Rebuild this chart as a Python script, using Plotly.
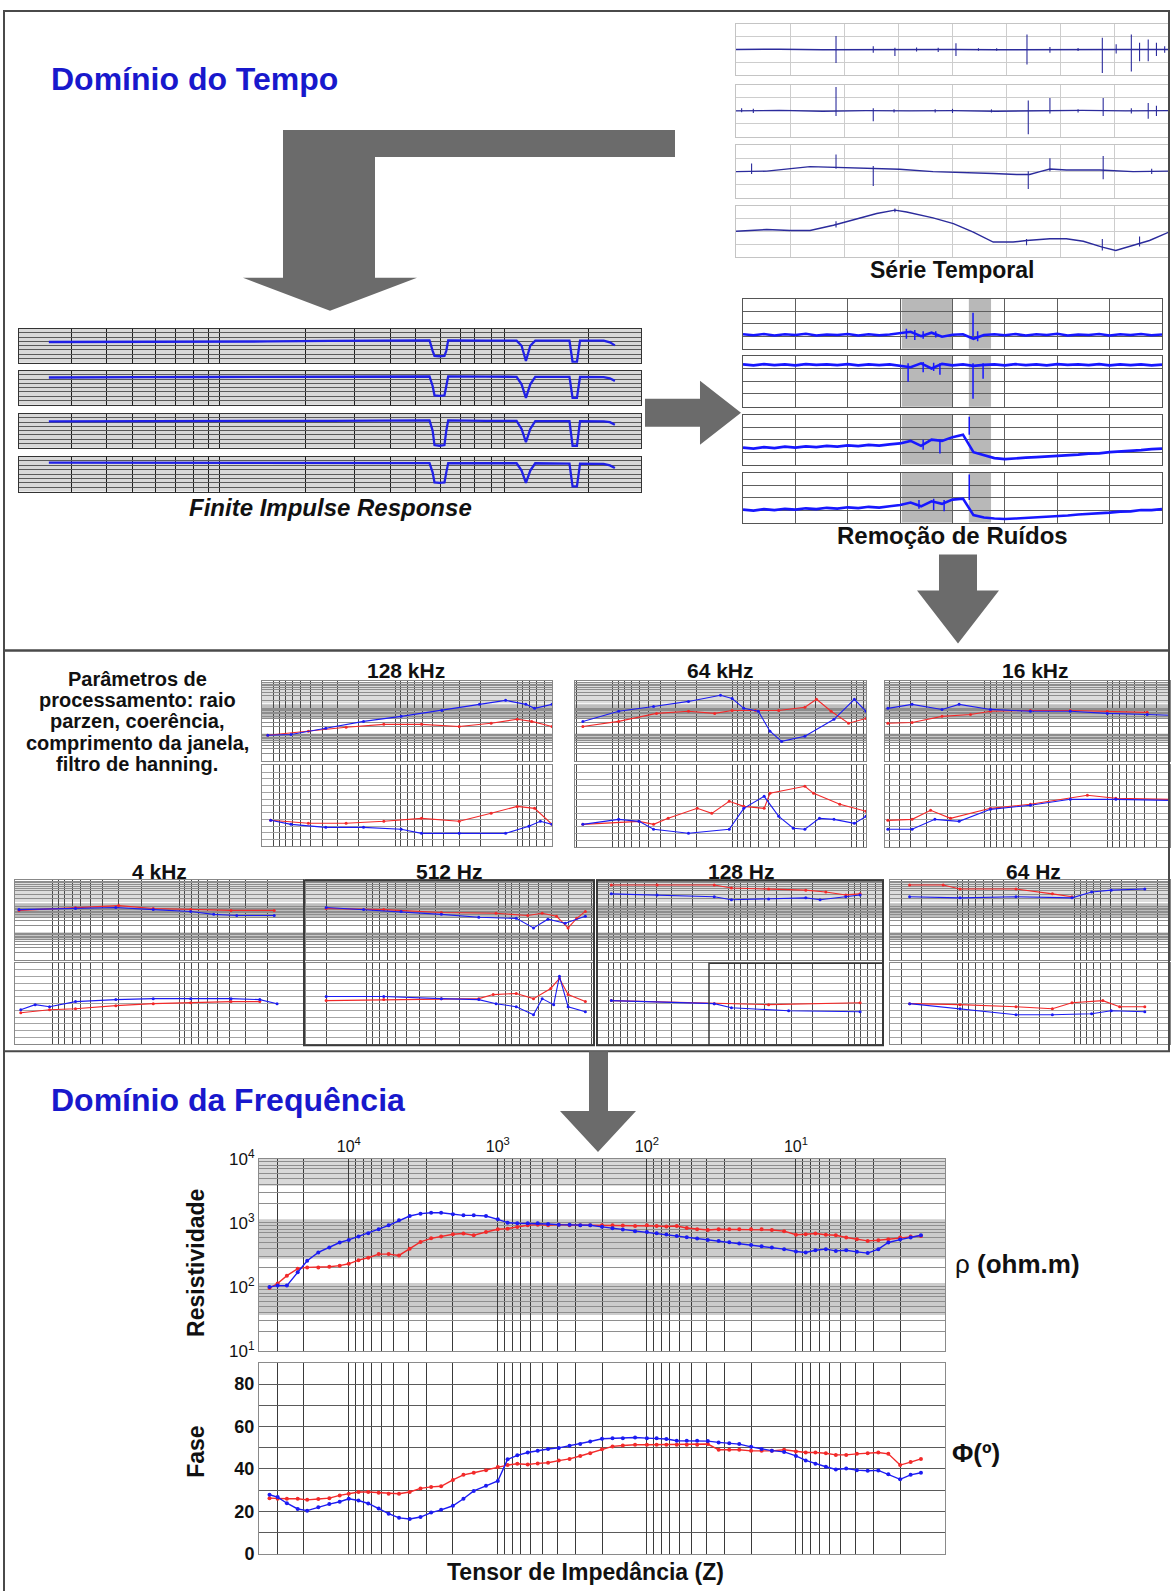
import math
import plotly.graph_objects as go

W, H = 1173, 1591

# ======================= DATA =======================
# --- Série Temporal (sample index 0..1000, amplitude a.u.) ---
st1_t = [0, 100, 200, 300, 400, 500, 600, 700, 800, 900, 1000]
st1_amp = [0.0, 0.01, -0.01, 0.0, 0.01, 0.0, -0.01, 0.0, 0.01, 0.0, 0.0]
st1_spk_t = [231, 317, 367, 417, 467, 508, 560, 602, 672, 725, 790, 846, 878, 913, 932, 952, 971, 990]
st1_spk_top = [0.53, 0.13, 0.07, 0.08, 0.07, 0.24, 0.05, 0.05, 0.59, 0.1, 0.06, 0.46, 0.2, 0.59, 0.26, 0.39, 0.26, 0.13]
st1_spk_bot = [-0.53, -0.13, -0.26, -0.08, -0.1, -0.26, -0.05, -0.05, -0.59, -0.13, -0.06, -0.92, -0.16, -0.86, -0.46, -0.46, -0.26, -0.13]

st2_t = [0, 100, 200, 300, 400, 500, 600, 700, 800, 900, 1000]
st2_amp = [0.0, 0.02, -0.01, 0.01, 0.0, 0.01, -0.01, 0.0, 0.02, 0.0, 0.01]
st2_spk_t = [13, 40, 231, 317, 365, 460, 500, 590, 675, 725, 790, 848, 913, 952, 971]
st2_spk_top = [0.1, 0.08, 0.92, 0.1, 0.06, 0.06, 0.08, 0.06, 0.4, 0.5, 0.06, 0.5, 0.1, 0.3, 0.2]
st2_spk_bot = [-0.05, -0.08, -0.2, -0.4, -0.06, -0.06, -0.08, -0.06, -0.9, -0.1, -0.06, -0.2, -0.1, -0.3, -0.2]

st3_t = [0, 71, 171, 240, 317, 378, 455, 532, 594, 648, 678, 702, 725, 763, 840, 917, 1000]
st3_amp = [-0.01, 0.01, 0.18, 0.14, 0.12, 0.08, -0.01, -0.04, -0.08, -0.12, -0.12, -0.01, 0.09, 0.05, 0.05, -0.01, 0.01]
st3_spk_t = [36, 231, 317, 675, 725, 848, 960]
st3_spk_top = [0.3, 0.64, 0.2, 0.0, 0.5, 0.58, 0.1]
st3_spk_bot = [-0.1, 0.1, -0.55, -0.67, 0.0, -0.3, -0.1]

st4_t = [0, 32, 71, 125, 171, 225, 278, 325, 367, 394, 455, 502, 548, 594, 640, 671, 725, 763, 802, 846, 877, 917, 955, 1000]
st4_amp = [0, 0.04, 0.07, 0.03, 0.03, 0.24, 0.5, 0.7, 0.83, 0.76, 0.53, 0.3, -0.03, -0.42, -0.42, -0.36, -0.29, -0.29, -0.39, -0.62, -0.75, -0.55, -0.36, -0.03]
st4_spk_t = [231, 367, 671, 846, 932]
st4_spk_top = [0.4, 0.9, -0.3, -0.3, -0.2]
st4_spk_bot = [0.15, 0.75, -0.55, -0.75, -0.6]

# --- Finite Impulse Response (sample index, amplitude a.u.) ---
fir_t = [48, 100, 200, 300, 400, 500, 600, 660, 665, 668, 676, 684, 687, 690, 750, 800, 808, 815, 822, 830, 885, 890, 897, 902, 940, 950, 958]
fir1 = [0.22, 0.22, 0.22, 0.25, 0.25, 0.28, 0.3, 0.32, -0.3, -0.6, -0.62, -0.6, -0.3, 0.32, 0.3, 0.3, 0.0, -0.9, 0.0, 0.3, 0.3, -0.96, -0.96, 0.3, 0.3, 0.2, 0.02]
fir2 = [0.6, 0.62, 0.62, 0.63, 0.63, 0.64, 0.65, 0.66, 0.1, -0.45, -0.48, -0.45, 0.1, 0.66, 0.65, 0.64, 0.2, -0.6, 0.2, 0.64, 0.64, -0.6, -0.6, 0.64, 0.62, 0.55, 0.4]
fir3 = [0.55, 0.56, 0.56, 0.57, 0.58, 0.58, 0.6, 0.6, 0.0, -0.85, -0.89, -0.85, 0.0, 0.6, 0.58, 0.58, 0.1, -0.68, 0.1, 0.56, 0.56, -0.89, -0.89, 0.56, 0.55, 0.5, 0.35]
fir4 = [0.66, 0.66, 0.66, 0.65, 0.65, 0.64, 0.63, 0.63, 0.1, -0.48, -0.5, -0.48, 0.1, 0.63, 0.62, 0.62, 0.2, -0.5, 0.2, 0.62, 0.6, -0.7, -0.7, 0.6, 0.58, 0.5, 0.35]

# --- Remoção de Ruídos (sample index step 25, amplitude a.u.) ---
rr_t = list(range(0, 1001, 25))
rr1 = [-0.42, -0.46, -0.41, -0.47, -0.42, -0.45, -0.40, -0.47, -0.43, -0.45, -0.41, -0.47, -0.42, -0.46, -0.43, -0.38,
       -0.32, -0.50, -0.36, -0.52, -0.44, -0.42, -0.60, -0.45, -0.42, -0.46, -0.41, -0.47, -0.42, -0.45, -0.40, -0.47,
       -0.43, -0.45, -0.41, -0.47, -0.42, -0.45, -0.41, -0.46, -0.43]
rr2 = [0.66, 0.62, 0.67, 0.63, 0.66, 0.62, 0.67, 0.64, 0.66, 0.63, 0.67, 0.62, 0.66, 0.63, 0.66, 0.60,
       0.55, 0.70, 0.50, 0.68, 0.62, 0.66, 0.60, 0.64, 0.66, 0.62, 0.67, 0.63, 0.66, 0.62, 0.67, 0.64,
       0.66, 0.63, 0.67, 0.62, 0.66, 0.63, 0.66, 0.62, 0.65]
rr3 = [-0.32, -0.36, -0.30, -0.34, -0.28, -0.32, -0.27, -0.30, -0.25, -0.28, -0.23, -0.26, -0.21, -0.24, -0.19, -0.15,
       -0.05, -0.25, 0.0, -0.05, 0.1, 0.2, -0.5, -0.62, -0.74, -0.78, -0.74, -0.72, -0.7, -0.68, -0.66, -0.62,
       -0.6, -0.56, -0.55, -0.5, -0.48, -0.44, -0.42, -0.38, -0.36]
rr4 = [-0.48, -0.52, -0.46, -0.50, -0.45, -0.48, -0.43, -0.46, -0.41, -0.44, -0.39, -0.42, -0.37, -0.40, -0.35, -0.30,
       -0.20, -0.35, -0.15, -0.25, -0.08, -0.04, -0.7, -0.8, -0.84, -0.86, -0.84, -0.82, -0.8, -0.78, -0.74, -0.72,
       -0.68, -0.66, -0.62, -0.6, -0.56, -0.55, -0.5, -0.5, -0.46]
rr1_spk_t = [390, 410, 430, 460, 549, 560]
rr1_spk_top = [-0.2, -0.25, -0.3, -0.3, 0.44, -0.3]
rr1_spk_bot = [-0.6, -0.65, -0.6, -0.55, -0.5, -0.7]
rr2_spk_t = [394, 430, 455, 470, 549, 573]
rr2_spk_top = [0.7, 0.75, 0.72, 0.7, 0.7, 0.7]
rr2_spk_bot = [-0.02, 0.35, 0.4, 0.25, -0.69, 0.1]
rr3_spk_t = [430, 470, 540]
rr3_spk_top = [0.0, 0.0, 0.92]
rr3_spk_bot = [-0.4, -0.55, 0.2]
rr4_spk_t = [420, 455, 480, 540]
rr4_spk_top = [-0.1, -0.05, -0.1, 0.92]
rr4_spk_bot = [-0.45, -0.5, -0.55, -0.1]

# --- mini panels: (frequency index 0..100, log10 rho) and (index, phase deg) ---
m128k_rho_b = [(2, 1.98), (10, 2.01), (22, 2.24), (35, 2.5), (48, 2.69), (62, 2.91), (75, 3.14), (84, 3.29), (91, 3.14), (94, 2.99), (100, 3.14)]
m128k_rho_r = [(2, 1.98), (16, 2.13), (29, 2.28), (42, 2.39), (55, 2.39), (68, 2.31), (79, 2.43), (88, 2.58), (93, 2.5), (100, 2.31)]
m128k_phs_b = [(3, 28.9), (10, 24.4), (22, 21.1), (35, 21.1), (48, 18.9), (55, 14.4), (68, 14.4), (84, 14.4), (92, 22.2), (96, 27.8), (100, 24.4)]
m128k_phs_r = [(3, 28.9), (16, 25.6), (29, 25.6), (42, 27.8), (55, 31.1), (68, 27.8), (79, 36.7), (88, 44.4), (94, 42.2), (100, 24.4)]

m64k_rho_b = [(2.7, 2.5), (15, 2.88), (27, 3.06), (39, 3.25), (50, 3.48), (54, 3.36), (58, 2.99), (63, 2.88), (67, 2.13), (71, 1.75), (79, 1.94), (89, 2.58), (96, 3.33), (100, 2.88)]
m64k_rho_r = [(2.7, 2.31), (15, 2.5), (28, 2.8), (39, 2.88), (48, 2.8), (54, 2.91), (62, 2.91), (70, 2.91), (79, 3.03), (83, 3.33), (88, 2.88), (94, 2.43), (100, 2.61)]
m64k_phs_b = [(2.7, 25.2), (15, 30.7), (22, 28.5), (27, 19.8), (39, 15.4), (53, 19.8), (58, 42.8), (65, 56.0), (70, 34.0), (75, 20.9), (79, 19.8), (84, 31.8), (89, 30.7), (96, 26.3), (100, 34.0)]
m64k_phs_r = [(2.7, 25.2), (22, 28.5), (27, 25.2), (32, 31.8), (42, 42.8), (47, 37.3), (53, 50.5), (58, 45.0), (65, 42.8), (67, 59.3), (79, 67.0), (82, 59.3), (91, 47.2), (100, 39.5)]

m16k_rho_b = [(1, 2.99), (9.5, 3.14), (20, 2.95), (26, 3.14), (37, 2.95), (51, 2.88), (65, 2.88), (78, 2.8), (92, 2.76), (100, 2.73)]
m16k_rho_r = [(1, 2.43), (9.5, 2.46), (20, 2.69), (30, 2.76), (37, 2.88), (51, 2.91), (65, 2.91), (78, 2.88), (92, 2.84)]
m16k_phs_b = [(1, 19.8), (9.5, 19.8), (17.5, 30.7), (26, 28.5), (37, 41.7), (51, 46.1), (65, 52.7), (81, 52.7), (100, 51.6)]
m16k_phs_r = [(1, 29.6), (9.5, 30.7), (16, 40.6), (23, 31.8), (37, 42.8), (51, 47.2), (71, 57.1), (81, 53.8), (100, 52.7)]

m4k_rho_b = [(1.4, 2.9), (21, 2.94), (35, 2.98), (48, 2.9), (61, 2.83), (69, 2.72), (77, 2.68), (90, 2.68)]
m4k_rho_r = [(1.4, 2.87), (21, 2.98), (36, 3.05), (48, 2.94), (61, 2.9), (75, 2.87), (90, 2.87)]
m4k_phs_b = [(2, 38.3), (7, 43.9), (12, 41.6), (21, 47.3), (35, 49.5), (48, 50.6), (61, 50.6), (75, 50.6), (85, 49.5), (91, 45.0)]
m4k_phs_r = [(2, 34.9), (12, 38.3), (21, 39.4), (35, 42.8), (48, 45.0), (61, 46.1), (75, 47.3), (85, 47.3)]

m512_rho_b = [(7, 2.98), (20, 2.9), (33, 2.83), (47, 2.72), (60, 2.61), (73, 2.57), (79, 2.21), (84, 2.54), (90, 2.39), (97, 2.65)]
m512_rho_r = [(7, 2.94), (27, 2.9), (47, 2.79), (66, 2.76), (77, 2.68), (82, 2.76), (87, 2.65), (91, 2.21), (94, 2.57), (97, 2.83)]
m512_phs_b = [(7, 52.9), (27, 52.9), (47, 50.6), (60, 49.5), (66, 45.0), (73, 41.6), (79, 32.6), (82, 50.6), (86, 43.9), (88, 75.4), (91, 41.6), (97, 36.0)]
m512_phs_r = [(7, 48.4), (27, 49.5), (47, 50.6), (60, 50.6), (65, 55.1), (73, 56.3), (79, 50.6), (85, 61.9), (88, 73.1), (91, 55.1), (97, 47.3)]

m128_rho_b = [(5, 3.49), (21, 3.45), (41, 3.38), (47, 3.27), (60, 3.3), (73, 3.34), (78, 3.27), (87, 3.38), (92, 3.45)]
m128_rho_r = [(5, 3.82), (21, 3.82), (41, 3.82), (47, 3.71), (60, 3.67), (73, 3.63), (80, 3.56), (87, 3.45), (92, 3.49)]
m128_phs_b = [(5, 48.4), (41, 45.0), (47, 40.5), (67, 37.1), (92, 36.0)]
m128_phs_r = [(5, 48.4), (41, 45.0), (60, 43.9), (92, 46.1)]

m64_rho_b = [(7, 3.38), (25, 3.34), (45, 3.38), (65, 3.34), (72, 3.56), (79, 3.63), (91, 3.67)]
m64_rho_r = [(7, 3.82), (19, 3.82), (25, 3.67), (45, 3.67), (58, 3.49), (65, 3.38)]
m64_phs_b = [(7, 45.0), (25, 39.4), (45, 32.6), (58, 32.6), (72, 33.8), (79, 37.1), (91, 36.0)]
m64_phs_r = [(7, 45.0), (25, 43.9), (45, 41.6), (58, 39.4), (65, 46.1), (76, 48.4), (82, 41.6), (91, 41.6)]

mini_titles = ["128 kHz", "64 kHz", "16 kHz", "4 kHz", "512 Hz", "128 Hz", "64 Hz"]

# --- Domínio da Frequência: curva final ---
freq_hz = [34000, 30000, 26000, 22000, 19000, 16000, 13500, 11500, 10000,
           8600, 7400, 6300, 5400, 4600, 3900, 3300, 2800, 2400, 2000, 1700, 1450, 1200, 1000,
           860, 740, 630, 540, 460, 390, 330, 280, 240, 200, 170, 145, 120, 100,
           86, 74, 63, 54, 46, 39, 33, 28, 24, 20, 17, 14.5, 12, 10,
           8.6, 7.4, 6.3, 5.4, 4.6, 3.9, 3.3, 2.8, 2.4, 2.0, 1.7, 1.45]
rho_blue = [100, 105, 105, 169, 257, 346, 414, 495, 544,
            612, 690, 800, 920, 1100, 1285, 1400, 1448, 1448, 1364, 1316, 1316, 1285, 1140,
            1012, 988, 988, 988, 965, 942, 942, 920, 920, 870, 830, 790, 745, 720,
            690, 660, 628, 600, 570, 544, 525, 500, 478, 452, 432, 412, 390, 358,
            346, 375, 390, 366, 375, 354, 338, 390, 495, 550, 592, 643]
rho_red = [96, 113, 150, 193, 202, 202, 207, 215, 230,
           262, 286, 326, 326, 311, 395, 505, 575, 613, 667, 683, 643, 724, 798,
           816, 867, 920, 942, 920, 942, 920, 920, 920, 920, 920, 910, 898, 920,
           898, 880, 898, 836, 798, 778, 798, 798, 798, 798, 798, 778, 745, 655,
           667, 683, 655, 643, 592, 557, 525, 538, 557, 592, 613, 628]
phase_blue = [27.8, 26.7, 23.8, 21.1, 20.3, 21.9, 23.4, 24.5, 25.9,
              25.1, 23.7, 21.3, 18.9, 16.9, 16.4, 17.3, 19.4, 20.7, 22.6, 25.9, 29.6, 32.0, 34.3,
              44.5, 46.4, 47.7, 48.6, 49.4, 49.9, 50.9, 51.7, 52.9, 54.2, 54.5, 54.5, 54.8, 54.5,
              54.4, 54.1, 53.3, 53.3, 53.3, 53.1, 52.5, 52.1, 51.7, 50.4, 49.4, 48.6, 48.0, 46.1,
              44.0, 42.4, 41.0, 39.7, 40.2, 39.4, 39.1, 39.3, 37.5, 35.1, 37.2, 38.2]
phase_red = [26.2, 25.9, 25.9, 25.9, 25.4, 25.8, 26.2, 27.5, 28.3,
             29.1, 29.1, 28.8, 28.3, 28.3, 29.1, 30.8, 31.5, 31.8, 34.8, 37.2, 38.2, 39.4, 40.9,
             41.8, 42.4, 42.1, 42.6, 42.9, 43.9, 44.7, 46.1, 47.4, 49.3, 50.6, 51.0, 51.4, 51.4,
             51.4, 51.4, 51.4, 51.4, 51.4, 51.7, 49.0, 49.0, 49.0, 48.5, 48.5, 48.5, 49.0, 48.2,
             47.7, 47.7, 47.4, 46.6, 46.6, 47.1, 47.4, 47.7, 47.1, 41.8, 43.2, 44.7]
phase_ticks = [0, 20, 40, 60, 80]
freq_decades = [10000, 1000, 100, 10]
freq_decade_labels = ['10<sup>4</sup>', '10<sup>3</sup>', '10<sup>2</sup>', '10<sup>1</sup>']
rho_decades = [10, 100, 1000, 10000]
rho_decade_labels = ['10<sup>1</sup>', '10<sup>2</sup>', '10<sup>3</sup>', '10<sup>4</sup>']

# ======================= STYLE / LAYOUT =======================
FONT = 'Liberation Sans, Arial, sans-serif'
NARROW = 'Liberation Sans Narrow, Liberation Sans, Arial, sans-serif'
BLUE = '#1c1cf2'
RED = '#f22a2a'
TITLE_BLUE = '#1818cc'
ARROW = '#6b6b6b'


def Y(v):
    # vertical page position -> plot coordinate (compensates the vertical rendering offset)
    return (v - 10) / 0.987


fig = go.Figure()
L = dict(width=W, height=H, margin=dict(l=0, r=0, t=0, b=0, pad=0),
         paper_bgcolor='white', plot_bgcolor='rgba(0,0,0,0)', showlegend=False,
         font=dict(family=FONT, color='#111'))
shapes, annotations = [], []
nax = [0]


def axes(x0, x1, y0, y1, xcfg=None, ycfg=None):
    nax[0] += 1
    n = nax[0]
    s = '' if n == 1 else str(n)
    base = dict(showticklabels=False, ticks='', zeroline=False, fixedrange=True,
                showgrid=True, showline=True, mirror=True, layer='below traces')
    xa = dict(base, domain=[x0 / W, x1 / W], anchor='y' + s)
    ya = dict(base, domain=[1 - Y(y1) / H, 1 - Y(y0) / H], anchor='x' + s)
    if xcfg:
        xa.update(xcfg)
    if ycfg:
        ya.update(ycfg)
    L['xaxis' + s] = xa
    L['yaxis' + s] = ya
    return 'x' + s, 'y' + s


def bg(xr, yr, color):
    shapes.append(dict(type='rect', xref=xr + ' domain', yref=yr + ' domain', x0=0, x1=1, y0=0, y1=1,
                       fillcolor=color, line=dict(width=0), layer='below'))


def band(xr, yr, y0, y1, color):
    shapes.append(dict(type='rect', xref=xr + ' domain', yref=yr, x0=0, x1=1, y0=y0, y1=y1,
                       fillcolor=color, line=dict(width=0), layer='below'))


def vband(xr, yr, x0, x1, color):
    shapes.append(dict(type='rect', xref=xr, yref=yr + ' domain', x0=x0, x1=x1, y0=0, y1=1,
                       fillcolor=color, line=dict(width=0), layer='below'))


def trace(xr, yr, xs, ys, color, width, markers=0):
    fig.add_trace(go.Scatter(x=xs, y=ys, xaxis=xr, yaxis=yr,
                             mode='lines+markers' if markers else 'lines',
                             line=dict(color=color, width=width),
                             marker=dict(size=markers, color=color),
                             hoverinfo='skip', connectgaps=False))


def spikes(xr, yr, ts, tops, bots, color, width):
    xs, ys = [], []
    for t, a, b in zip(ts, tops, bots):
        xs += [t, t, None]
        ys += [b, a, None]
    trace(xr, yr, xs, ys, color, width)


def text(x, y, s, size, color='#111', xanchor='center', bold=True, italic=False, angle=0, family=FONT):
    t = s
    if italic:
        t = '<i>' + t + '</i>'
    if bold:
        t = '<b>' + t + '</b>'
    annotations.append(dict(x=x / W, y=1 - Y(y) / H, xref='paper', yref='paper', text=t, showarrow=False,
                            xanchor=xanchor, yanchor='middle', textangle=angle,
                            font=dict(size=size, color=color, family=family)))


def poly(points, color):
    p = 'M ' + ' L '.join('%.5f,%.5f' % (x / W, 1 - Y(y) / H) for x, y in points) + ' Z'
    shapes.append(dict(type='path', xref='paper', yref='paper', path=p, fillcolor=color,
                       line=dict(width=0), layer='above'))


def rect(x0, y0, x1, y1, color, width):
    shapes.append(dict(type='rect', xref='paper', yref='paper', x0=x0 / W, x1=x1 / W,
                       y0=1 - Y(y1) / H, y1=1 - Y(y0) / H,
                       line=dict(color=color, width=width), fillcolor='rgba(0,0,0,0)', layer='above'))


def pline(x0, y0, x1, y1, color, width):
    shapes.append(dict(type='line', xref='paper', yref='paper', x0=x0 / W, x1=x1 / W,
                       y0=1 - Y(y0) / H, y1=1 - Y(y1) / H,
                       line=dict(color=color, width=width), layer='above'))


# ---------- frames ----------
rect(4, 9, 1169, 649, '#4a4a4a', 2)
rect(4, 649, 1169, 1050, '#4a4a4a', 2)
pline(4, 1050, 4, 1600, '#4a4a4a', 2)

# ---------- titles ----------
text(49, 77, 'Domínio do Tempo', 32, TITLE_BLUE, xanchor='left')
text(49, 1099, 'Domínio da Frequência', 32, TITLE_BLUE, xanchor='left')

# ---------- arrows ----------
poly([(675, 128), (283, 128), (283, 276), (243, 276), (330, 309), (417, 276), (375, 276), (375, 155), (675, 155)], ARROW)
poly([(645, 397), (700, 397), (700, 379), (741, 411), (700, 443), (700, 425), (645, 425)], ARROW)
poly([(939, 553), (977, 553), (977, 589), (999, 589), (958, 642), (917, 589), (939, 589)], ARROW)
poly([(589, 1050), (608, 1050), (608, 1110), (636, 1110), (598, 1151), (560, 1110), (589, 1110)], ARROW)

# ---------- Série Temporal ----------
st_rows = [(22, 73), (83, 135), (143, 196), (204, 255)]
st_series = [(st1_t, st1_amp, st1_spk_t, st1_spk_top, st1_spk_bot),
             (st2_t, st2_amp, st2_spk_t, st2_spk_top, st2_spk_bot),
             (st3_t, st3_amp, st3_spk_t, st3_spk_top, st3_spk_bot),
             (st4_t, st4_amp, st4_spk_t, st4_spk_top, st4_spk_bot)]
for (y0, y1), (tt, aa, sp_t, sp_a, sp_b) in zip(st_rows, st_series):
    xr, yr = axes(736, 1169, y0, y1,
                  dict(range=[0, 1000], tickvals=[125, 250, 375, 500, 625, 750, 875], gridcolor='#cdcdcd', linecolor='#c4c4c4'),
                  dict(range=[-1, 1], tickvals=[-0.5, 0, 0.5], gridcolor='#cdcdcd', linecolor='#c4c4c4'))
    trace(xr, yr, tt, aa, '#2b2b9c', 1.4)
    spikes(xr, yr, sp_t, sp_a, sp_b, '#2b2b9c', 1.1)
text(952, 268, 'Série Temporal', 23)

# ---------- Finite Impulse Response ----------
fir_rows = [(327, 361), (369, 403), (412, 446), (455, 490)]
fir_vgrid = [84, 141, 183, 220, 252, 280, 304, 323, 461, 540, 598, 637, 677, 709, 733, 759, 780, 916]
for (y0, y1), vals in zip(fir_rows, [fir1, fir2, fir3, fir4]):
    xr, yr = axes(19, 641, y0, y1,
                  dict(range=[0, 1000], tickvals=fir_vgrid, gridcolor='#1e1e1e', linecolor='#333'),
                  dict(range=[-1, 1], tickvals=[-0.75, -0.5, -0.25, 0, 0.25, 0.5, 0.75], gridcolor='#5a5a5a', linecolor='#333'))
    bg(xr, yr, '#d8d8d8')
    trace(xr, yr, fir_t, vals, '#2020e6', 2.3)
text(330, 506, 'Finite Impulse Response', 24, italic=True)

# ---------- Remoção de Ruídos ----------
rr_rows = [(297, 347), (354, 405), (413, 463), (471, 521)]
rr_series = [(rr1, rr1_spk_t, rr1_spk_top, rr1_spk_bot), (rr2, rr2_spk_t, rr2_spk_top, rr2_spk_bot),
             (rr3, rr3_spk_t, rr3_spk_top, rr3_spk_bot), (rr4, rr4_spk_t, rr4_spk_top, rr4_spk_bot)]
for (y0, y1), (vals, sp_t, sp_a, sp_b) in zip(rr_rows, rr_series):
    xr, yr = axes(743, 1162, y0, y1,
                  dict(range=[0, 1000], tickvals=[125, 250, 375, 500, 625, 750, 875], gridcolor='#5e5e5e', linecolor='#555'),
                  dict(range=[-1, 1], tickvals=[-0.5, 0, 0.5], gridcolor='#5e5e5e', linecolor='#555'))
    vband(xr, yr, 379, 499, '#b8b8b8')
    vband(xr, yr, 539, 592, '#b8b8b8')
    trace(xr, yr, rr_t, vals, '#1717ff', 2.6)
    spikes(xr, yr, sp_t, sp_a, sp_b, '#1717ff', 1.5)
text(952, 534, 'Remoção de Ruídos', 24)

# ---------- Parâmetros text ----------
for yy, line_txt in zip([678, 699, 720, 742, 763],
                        ['Parâmetros de', 'processamento: raio', 'parzen, coerência,', 'comprimento da janela,', 'filtro de hanning.']):
    text(137, yy, line_txt, 20)


# ---------- mini panels ----------
def log_grid(p0, D):
    vals = []
    p = p0
    while p > 0:
        p -= D
    while p < 100:
        for m in range(10, 1, -1):
            v = p + D * (1 - math.log10(m))
            if 0.5 < v < 99.5:
                vals.append(round(v, 2))
        p += D
    return vals


rho_grid = [n + math.log10(k) for n in (1, 2, 3) for k in range(1, 10)][1:]
mini_specs = [
    # x0, x1, upper y, lower y, title centre, grid (offset, decade)
    (262, 552, (680, 760), (764, 845), (406, 669), (46, 42), m128k_rho_b, m128k_rho_r, m128k_phs_b, m128k_phs_r),
    (575, 866, (680, 760), (764, 846), (720, 669), (13, 41), m64k_rho_b, m64k_rho_r, m64k_phs_b, m64k_phs_r),
    (885, 1170, (680, 760), (764, 846), (1035, 669), (35, 43), m16k_rho_b, m16k_rho_r, m16k_phs_b, m16k_phs_r),
    (15, 303, (879, 959), (962, 1043), (159, 870), (13, 44), m4k_rho_b, m4k_rho_r, m4k_phs_b, m4k_phs_r),
    (306, 594, (879, 959), (962, 1043), (449, 870), (21, 46), m512_rho_b, m512_rho_r, m512_phs_b, m512_phs_r),
    (597, 883, (879, 959), (962, 1043), (741, 870), (46, 42), m128_rho_b, m128_rho_r, m128_phs_b, m128_phs_r),
    (890, 1170, (879, 959), (962, 1043), (1033, 870), (24, 42), m64_rho_b, m64_rho_r, m64_phs_b, m64_phs_r),
]
for title, spec in zip(mini_titles, mini_specs):
    x0, x1, (uy0, uy1), (ly0, ly1), (tx, ty), (g0, gd), rb, rr_, pb, pr = spec
    vg = log_grid(g0, gd)
    xr, yr = axes(x0, x1, uy0, uy1,
                  dict(range=[0, 100], tickvals=vg, gridcolor='#4a4a4a', gridwidth=1, linecolor='#888'),
                  dict(range=[1, 4], tickvals=rho_grid, gridcolor='#8d8d8d', linecolor='#888'))
    band(xr, yr, 3.18, 3.95, '#dcdcdc')
    band(xr, yr, 2.61, 3.14, '#bdbdbd')
    band(xr, yr, 1.75, 2.05, '#c8c8c8')
    trace(xr, yr, [p[0] for p in rr_], [p[1] for p in rr_], RED, 1.1, 3)
    trace(xr, yr, [p[0] for p in rb], [p[1] for p in rb], BLUE, 1.1, 3)
    xr, yr = axes(x0, x1, ly0, ly1,
                  dict(range=[0, 100], tickvals=vg, gridcolor='#4a4a4a', gridwidth=1, linecolor='#888'),
                  dict(range=[0, 90], tickvals=[7.5 * i for i in range(1, 12)], gridcolor='#a4a4a4', linecolor='#888'))
    trace(xr, yr, [p[0] for p in pr], [p[1] for p in pr], RED, 1.1, 3)
    trace(xr, yr, [p[0] for p in pb], [p[1] for p in pb], BLUE, 1.1, 3)
    text(tx, ty, title, 21)

rect(304, 879, 594, 1044, '#3a3a3a', 2)
rect(597, 879, 883, 1044, '#3a3a3a', 2)
rect(709, 962, 883, 1044, '#3a3a3a', 1.5)

# ---------- main MT curves ----------
f_minor = [k * 10 ** n for n in range(0, 5) for k in range(1, 10)
           if k * 10 ** n <= 40000 and k * 10 ** n not in freq_decades]
r_minor = [k * 10 ** n for n in range(1, 4) for k in range(2, 10)]
GRIDV = '#3a3a3a'
xr, yr = axes(259, 945, 1158, 1350,
              dict(type='log', range=[math.log10(40000), 0], tickmode='array', tickvals=freq_decades,
                   ticktext=freq_decade_labels, side='top', showticklabels=True, gridcolor=GRIDV,
                   linecolor='#8a8a8a', tickfont=dict(size=16, family=NARROW, color='#111'),
                   ticklabelstandoff=0,
                   minor=dict(tickmode='array', tickvals=f_minor, showgrid=True, gridcolor=GRIDV, ticks='')),
              dict(type='log', range=[1, 4], tickmode='array', tickvals=rho_decades, ticktext=rho_decade_labels,
                   showticklabels=True, gridcolor='#8e8e8e', linecolor='#8a8a8a',
                   tickfont=dict(size=17, family=NARROW, color='#111'),
                   minor=dict(tickmode='array', tickvals=r_minor, showgrid=True, gridcolor='#8e8e8e', ticks='')))
band(xr, yr, 10 ** 3.58, 10 ** 4, '#d9d9d9')
band(xr, yr, 10 ** 2.44, 10 ** 3.06, '#cccccc')
band(xr, yr, 10 ** 1.56, 10 ** 2.06, '#cccccc')
trace(xr, yr, freq_hz, rho_red, RED, 1.4, 4)
trace(xr, yr, freq_hz, rho_blue, BLUE, 1.4, 4)

xr, yr = axes(259, 945, 1362, 1553,
              dict(type='log', range=[math.log10(40000), 0], tickmode='array', tickvals=freq_decades,
                   gridcolor=GRIDV, linecolor='#8a8a8a',
                   minor=dict(tickmode='array', tickvals=f_minor, showgrid=True, gridcolor=GRIDV, ticks='')),
              dict(range=[0, 90], tickmode='array', tickvals=phase_ticks, ticktext=[str(v) for v in phase_ticks],
                   showticklabels=True, gridcolor='#5a5a5a', linecolor='#8a8a8a',
                   tickfont=dict(size=18, family=NARROW, color='#111', weight='bold'),
                   minor=dict(tickmode='array', tickvals=[10, 30, 50, 70, 90], showgrid=True, gridcolor='#5a5a5a', ticks='')))
trace(xr, yr, freq_hz, phase_red, RED, 1.4, 4)
trace(xr, yr, freq_hz, phase_blue, BLUE, 1.4, 4)

text(196, 1262, 'Resistividade', 23, angle=-90)
text(196, 1451, 'Fase', 23, angle=-90)
text(953, 1263, 'ρ <b>(ohm.m)</b>', 26, xanchor='left', bold=False)
text(950, 1452, 'Φ(º)', 26, xanchor='left')
text(585, 1571, 'Tensor de Impedância (Z)', 23)

L['shapes'] = shapes
L['annotations'] = annotations
fig.update_layout(**L)
fig.write_html('out.html')
